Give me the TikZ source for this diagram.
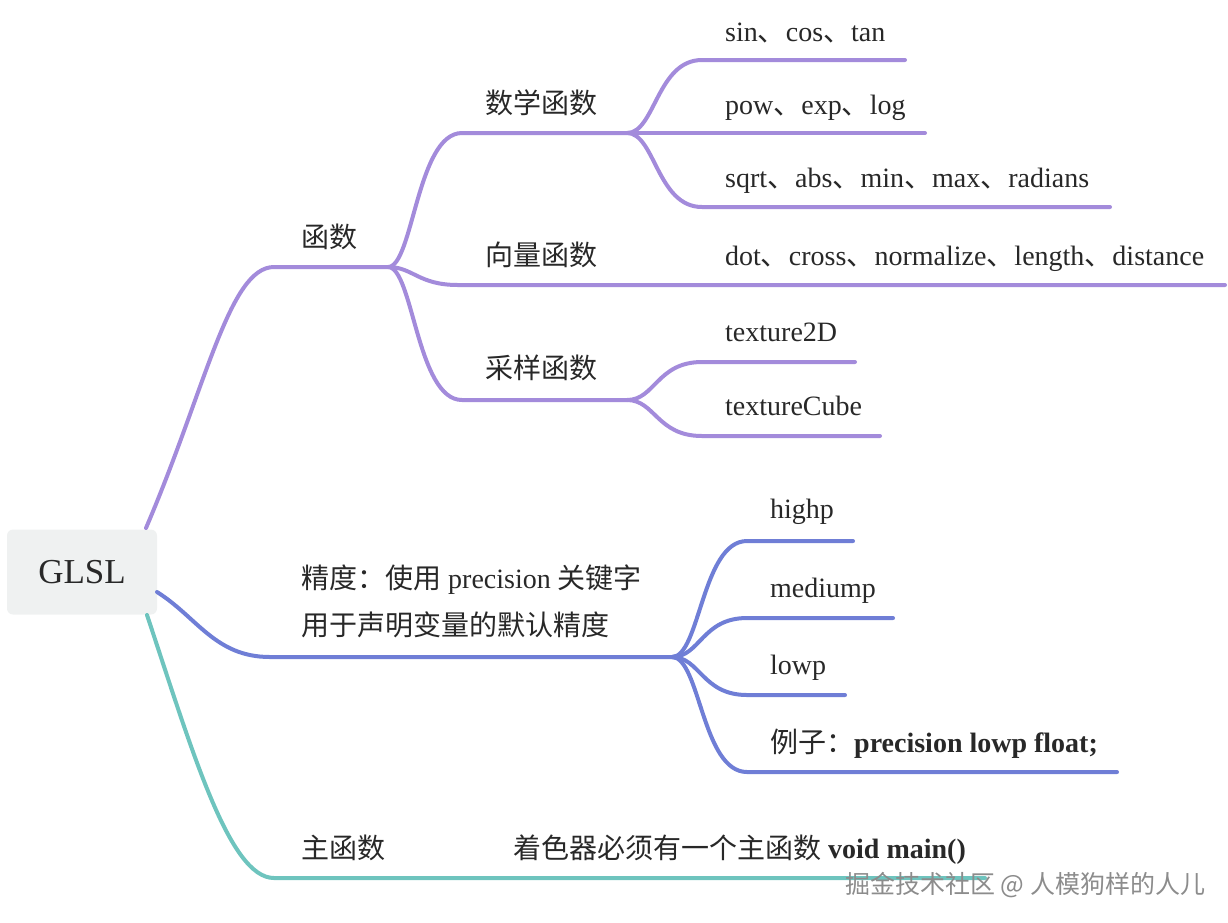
\documentclass[tikz,border=0pt]{standalone}
\usepackage{fontspec}
\setmainfont{Liberation Serif}
\newfontfamily\cjk{Noto Sans CJK SC}
\newcommand{\zh}[1]{{\cjk #1}}
\definecolor{purp}{RGB}{163,139,219}
\definecolor{blu}{RGB}{111,126,214}
\definecolor{teal2}{RGB}{110,196,190}
\definecolor{rootfill}{RGB}{239,241,241}
\definecolor{txt}{RGB}{40,40,40}
\tikzset{
  br/.style={line width=4pt, line cap=round, line join=round},
  lbl/.style={anchor=base west, inner sep=0pt, text=txt, font=\fontsize{28}{33}\selectfont},
}
\begin{document}
\begin{tikzpicture}[x=1pt,y=-1pt]
\useasboundingbox (0,0) rectangle (1228,922);
% root
\node[fill=rootfill, rounded corners=6pt, minimum width=150pt, minimum height=85pt, inner sep=0pt, text=txt, font=\fontsize{35}{40}\selectfont] (root) at (82,572) {GLSL};
% coordinates
\coordinate (rp) at (146,528);
\coordinate (rb) at (157,592);
\coordinate (rt) at (147,615);
\coordinate (f1) at (274,267);
\coordinate (j1) at (388,267);
\coordinate (m1) at (462,133);
\coordinate (j2) at (627,133);
\coordinate (v1) at (458,285);
\coordinate (v2) at (1225,285);
\coordinate (s1) at (462,400);
\coordinate (j3) at (627,400);
\coordinate (a1) at (702,60);  \coordinate (a2) at (905,60);
\coordinate (b2) at (925,133);
\coordinate (c1) at (702,207); \coordinate (c2) at (1110,207);
\coordinate (d1) at (702,362); \coordinate (d2) at (855,362);
\coordinate (e1) at (702,436); \coordinate (e2) at (880,436);
\coordinate (p1) at (270,657);
\coordinate (j4) at (672,657);
\coordinate (h1) at (747,541); \coordinate (h2) at (853,541);
\coordinate (g1) at (747,618); \coordinate (g2) at (893,618);
\coordinate (l1) at (747,695); \coordinate (l2) at (845,695);
\coordinate (x1) at (747,772); \coordinate (x2) at (1117,772);
\coordinate (t1) at (274,878); \coordinate (t2) at (985,878);
% purple branch
\begin{scope}[br, draw=purp]
\draw (rp) .. controls +(60,-140) and +(-45,0) .. (f1) -- (j1);
\draw (j1) .. controls +(25,0) and +(-45,0) .. (m1) -- (j2);
\draw (j1) .. controls +(25,0) and +(-40,0) .. (v1) -- (v2);
\draw (j1) .. controls +(25,0) and +(-45,0) .. (s1) -- (j3);
\draw (j2) .. controls +(28,0) and +(-45,0) .. (a1) -- (a2);
\draw (j2) -- (b2);
\draw (j2) .. controls +(28,0) and +(-45,0) .. (c1) -- (c2);
\draw (j3) .. controls +(28,0) and +(-45,0) .. (d1) -- (d2);
\draw (j3) .. controls +(28,0) and +(-45,0) .. (e1) -- (e2);
\end{scope}
% blue branch
\begin{scope}[br, draw=blu]
\draw (rb) .. controls +(40,25) and +(-55,0) .. (p1) -- (j4);
\draw (j4) .. controls +(28,0) and +(-45,0) .. (h1) -- (h2);
\draw (j4) .. controls +(28,0) and +(-45,0) .. (g1) -- (g2);
\draw (j4) .. controls +(28,0) and +(-45,0) .. (l1) -- (l2);
\draw (j4) .. controls +(28,0) and +(-45,0) .. (x1) -- (x2);
\end{scope}
% teal branch
\draw[br, draw=teal2] (rt) .. controls +(45,135) and +(-45,0) .. (t1) -- (t2);
% labels
\node[lbl] (n1) at (301,247) {\zh{函数}};
\node[lbl] (n2) at (485,113) {\zh{数学函数}};
\node[lbl] (n3) at (485,265) {\zh{向量函数}};
\node[lbl] (n4) at (485,378) {\zh{采样函数}};
\node[lbl] (n5) at (725,41) {sin\zh{、}cos\zh{、}tan};
\node[lbl] (n6) at (725,114) {pow\zh{、}exp\zh{、}log};
\node[lbl] (n7) at (725,187) {sqrt\zh{、}abs\zh{、}min\zh{、}max\zh{、}radians};
\node[lbl] (n8) at (725,265) {dot\zh{、}cross\zh{、}normalize\zh{、}length\zh{、}distance};
\node[lbl] (n9) at (725,341) {texture2D};
\node[lbl] (n10) at (725,415) {textureCube};
\node[lbl] (n11) at (301,588) {\zh{精度：使用} precision \zh{关键字}};
\node[lbl] (n12) at (301,635) {\zh{用于声明变量的默认精度}};
\node[lbl] (n13) at (770,518) {highp};
\node[lbl] (n14) at (770,597) {mediump};
\node[lbl] (n15) at (770,674) {lowp};
\node[lbl] (n16) at (770,752) {\zh{例子：}\textbf{precision lowp float;}};
\node[lbl] (n17) at (301,858) {\zh{主函数}};
\node[lbl] (n18) at (513,858) {\zh{着色器必须有一个主函数} \textbf{void main()}};
\node[anchor=base west, inner sep=0pt, text=black!45, font=\cjk\fontsize{25}{29}\selectfont] (wm) at (845,893) {掘金技术社区 @ 人模狗样的人儿};
\end{tikzpicture}
\end{document}
